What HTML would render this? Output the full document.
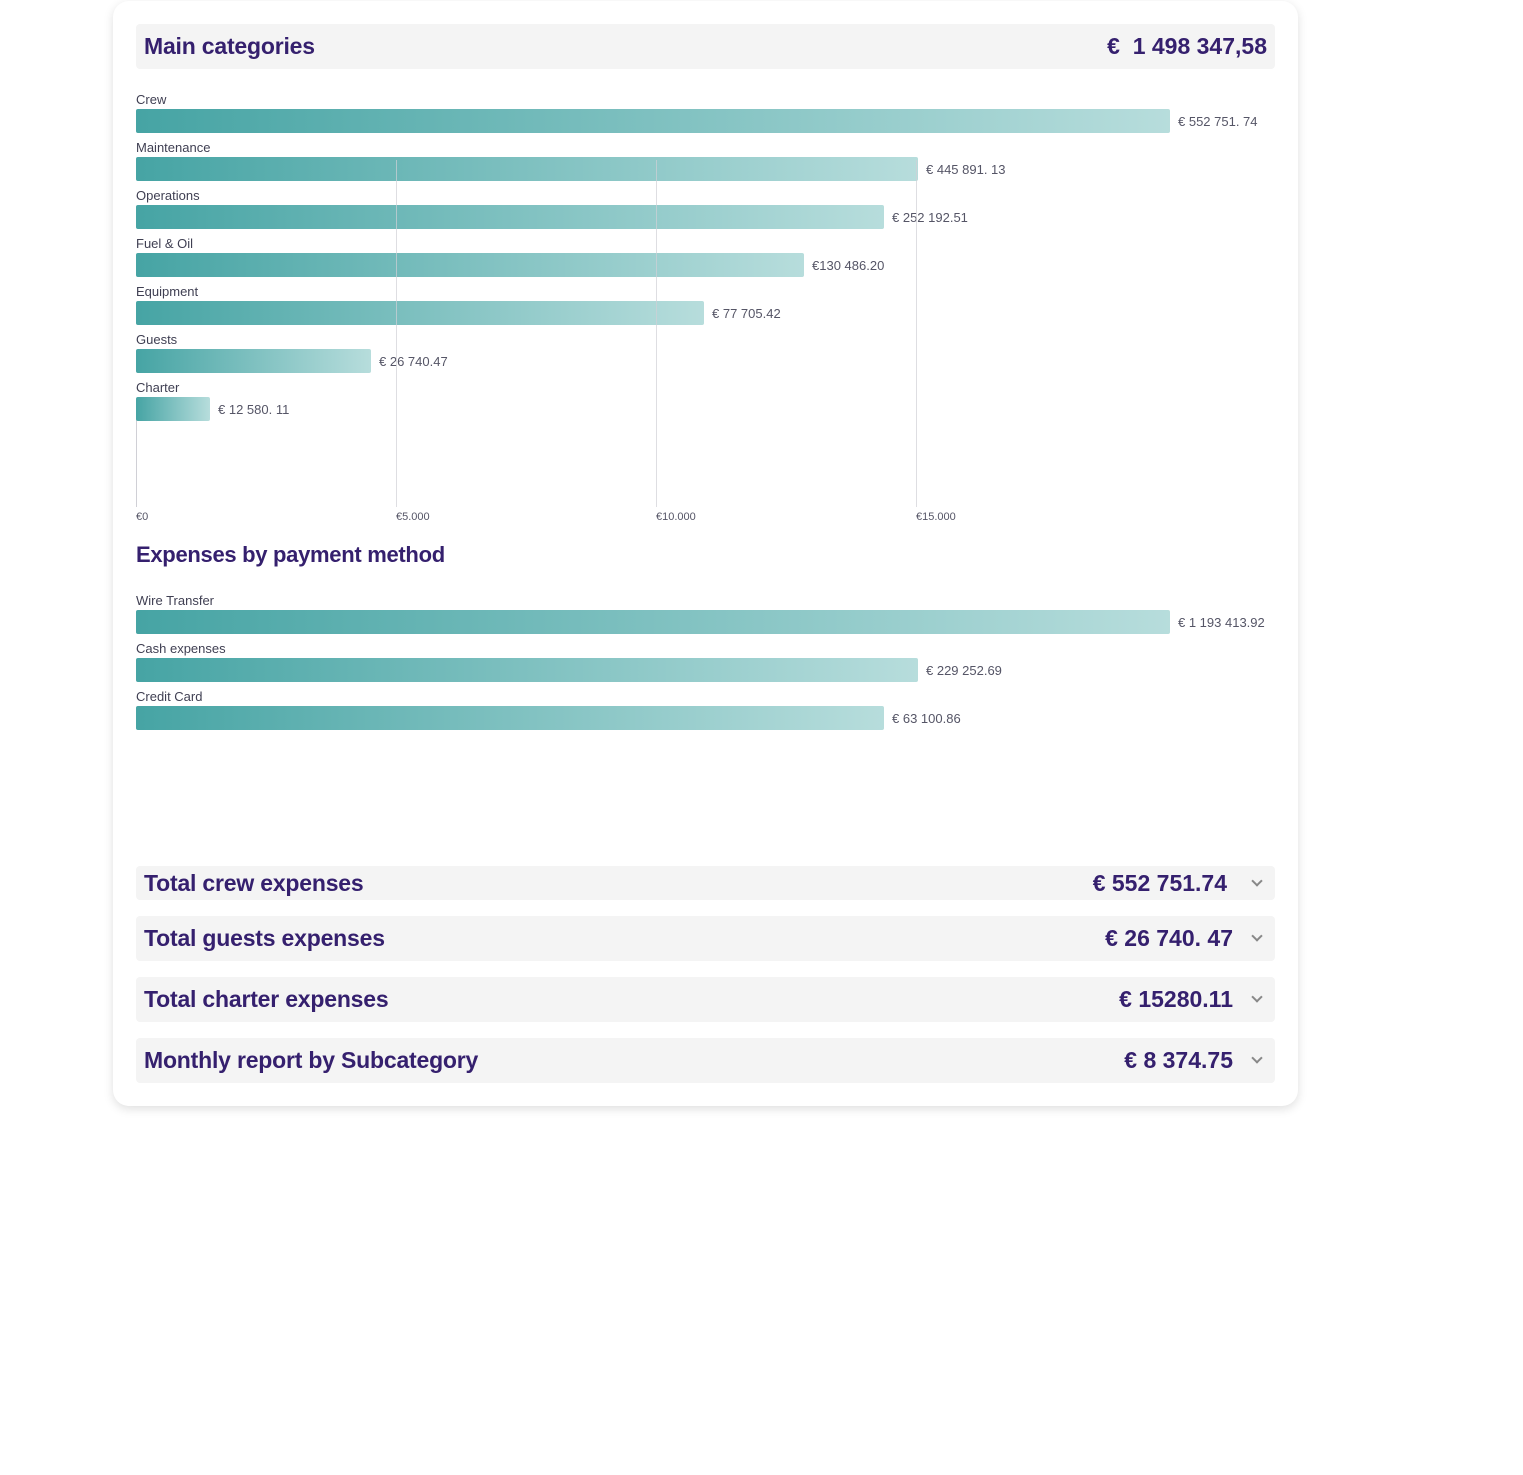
<!DOCTYPE html>
<html><head><meta charset="utf-8"><style>
*{margin:0;padding:0;box-sizing:border-box}
body{width:1523px;height:1475px;background:#fff;font-family:"Liberation Sans",Arial,sans-serif;position:relative;overflow:hidden}
.card{position:absolute;left:113px;top:1px;width:1185px;height:1105px;background:#fff;border-radius:16px;box-shadow:0 3px 10px rgba(0,0,0,0.13)}
.hdr{position:absolute;left:136px;width:1139px;background:#f4f4f4;border-radius:4px;color:#35206e;font-weight:bold;font-size:23px}
.hdr .l{position:absolute;left:8px;letter-spacing:-0.2px}
.hdr .r{position:absolute;right:42px}
.hdr .chev{position:absolute;right:14px;width:8px;height:8px;border-right:2px solid #888;border-bottom:2px solid #888;transform:rotate(45deg)}
.lab{position:absolute;left:136px;font-size:13px;color:#3f3f52}
.bar{position:absolute;left:136px;height:24px;border-radius:2px;background:linear-gradient(90deg,#46a4a4,#b7dddc)}
.val{position:absolute;font-size:13px;color:#555566}
.g{position:absolute;top:160px;height:347px;width:1px;background:#d0d0d6}
.t{position:absolute;top:511px;font-size:11px;color:#555566}
h2{position:absolute;left:136px;top:542px;font-size:22px;letter-spacing:-0.3px;color:#35206e;font-weight:bold}
</style></head><body>
<div class="card"></div>
<div class="hdr" style="top:24px;height:45px;line-height:45px"><span class="l">Main categories</span><span class="r" style="right:8px">€&nbsp; 1 498 347,58</span></div>

<div class="g" style="left:136px;top:400px;height:107px"></div>

<div class="lab" style="top:92px">Crew</div><div class="bar" style="top:109px;width:1034px"></div><div class="val" style="left:1178px;top:114px">€ 552 751. 74</div>
<div class="lab" style="top:140px">Maintenance</div><div class="bar" style="top:157px;width:782px"></div><div class="val" style="left:926px;top:162px">€ 445 891. 13</div>
<div class="lab" style="top:188px">Operations</div><div class="bar" style="top:205px;width:748px"></div><div class="val" style="left:892px;top:210px">€ 252 192.51</div>
<div class="lab" style="top:236px">Fuel &amp; Oil</div><div class="bar" style="top:253px;width:668px"></div><div class="val" style="left:812px;top:258px">€130 486.20</div>
<div class="lab" style="top:284px">Equipment</div><div class="bar" style="top:301px;width:568px"></div><div class="val" style="left:712px;top:306px">€ 77 705.42</div>
<div class="lab" style="top:332px">Guests</div><div class="bar" style="top:349px;width:235px"></div><div class="val" style="left:379px;top:354px">€ 26 740.47</div>
<div class="lab" style="top:380px">Charter</div><div class="bar" style="top:397px;width:74px"></div><div class="val" style="left:218px;top:402px">€ 12 580. 11</div>

<div class="g" style="left:396px;opacity:.7"></div><div class="g" style="left:656px;opacity:.7"></div><div class="g" style="left:916px;opacity:.7"></div>
<div class="t" style="left:136px">€0</div><div class="t" style="left:396px">€5.000</div><div class="t" style="left:656px">€10.000</div><div class="t" style="left:916px">€15.000</div>

<h2>Expenses by payment method</h2>
<div class="lab" style="top:593px">Wire Transfer</div><div class="bar" style="top:610px;width:1034px"></div><div class="val" style="left:1178px;top:615px">€ 1 193 413.92</div>
<div class="lab" style="top:641px">Cash expenses</div><div class="bar" style="top:658px;width:782px"></div><div class="val" style="left:926px;top:663px">€ 229 252.69</div>
<div class="lab" style="top:689px">Credit Card</div><div class="bar" style="top:706px;width:748px"></div><div class="val" style="left:892px;top:711px">€ 63 100.86</div>

<div class="hdr" style="top:866px;height:34px;line-height:34px"><span class="l">Total crew expenses</span><span class="r" style="right:48px">€ 552 751.74</span><span class="chev" style="top:11px"></span></div>
<div class="hdr" style="top:916px;height:45px;line-height:45px"><span class="l">Total guests expenses</span><span class="r">€ 26 740. 47</span><span class="chev" style="top:16px"></span></div>
<div class="hdr" style="top:977px;height:45px;line-height:45px"><span class="l">Total charter expenses</span><span class="r">€ 15280.11</span><span class="chev" style="top:16px"></span></div>
<div class="hdr" style="top:1038px;height:45px;line-height:45px"><span class="l">Monthly report by Subcategory</span><span class="r">€ 8 374.75</span><span class="chev" style="top:16px"></span></div>
</body></html>
